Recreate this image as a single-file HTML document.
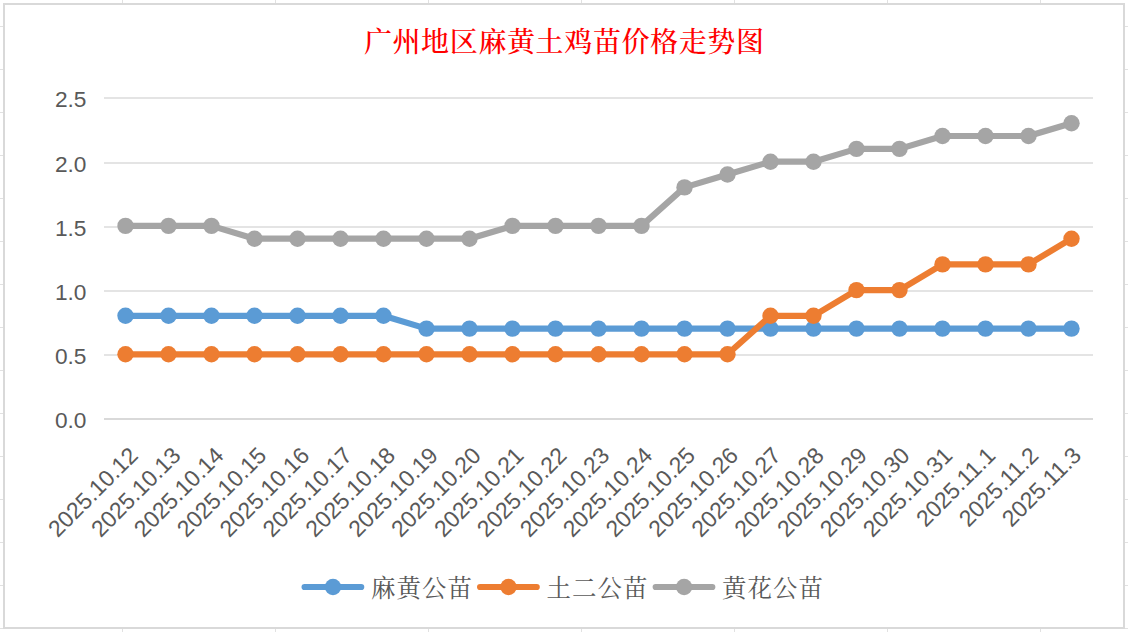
<!DOCTYPE html>
<html><head><meta charset="utf-8"><title>广州地区麻黄土鸡苗价格走势图</title>
<style>
html,body{margin:0;padding:0;background:#fff;width:1128px;height:632px;overflow:hidden}
svg{display:block}
.ax{font-family:"Liberation Sans","Noto Sans CJK SC",sans-serif;font-size:23px;fill:#595959}
.lg{font-family:"Liberation Serif","Noto Serif CJK SC",serif;font-size:24.5px;letter-spacing:1px;fill:#595959}
.tt{font-family:"Liberation Serif","Noto Serif CJK SC",serif;font-size:28px;font-weight:500;fill:#FF0000}
</style></head><body>
<svg width="1128" height="632" viewBox="0 0 1128 632">
<rect width="1128" height="632" fill="#fff"/>
<rect x="0" y="26" width="1128" height="1" fill="#E1E1E1"/><rect x="0" y="69" width="1128" height="1" fill="#E1E1E1"/><rect x="0" y="112" width="1128" height="1" fill="#E1E1E1"/><rect x="0" y="155" width="1128" height="1" fill="#E1E1E1"/><rect x="0" y="198" width="1128" height="1" fill="#E1E1E1"/><rect x="0" y="241" width="1128" height="1" fill="#E1E1E1"/><rect x="0" y="284" width="1128" height="1" fill="#E1E1E1"/><rect x="0" y="327" width="1128" height="1" fill="#E1E1E1"/><rect x="0" y="370" width="1128" height="1" fill="#E1E1E1"/><rect x="0" y="413" width="1128" height="1" fill="#E1E1E1"/><rect x="0" y="456" width="1128" height="1" fill="#E1E1E1"/><rect x="0" y="499" width="1128" height="1" fill="#E1E1E1"/><rect x="0" y="542" width="1128" height="1" fill="#E1E1E1"/><rect x="0" y="585" width="1128" height="1" fill="#E1E1E1"/><rect x="0" y="628" width="1128" height="1" fill="#E1E1E1"/><rect x="122" y="0" width="1" height="632" fill="#E1E1E1"/><rect x="275" y="0" width="1" height="632" fill="#E1E1E1"/><rect x="428" y="0" width="1" height="632" fill="#E1E1E1"/><rect x="581" y="0" width="1" height="632" fill="#E1E1E1"/><rect x="734" y="0" width="1" height="632" fill="#E1E1E1"/><rect x="887" y="0" width="1" height="632" fill="#E1E1E1"/><rect x="1040" y="0" width="1" height="632" fill="#E1E1E1"/><rect x="1193" y="0" width="1" height="632" fill="#E1E1E1"/>
<rect x="4" y="4" width="1120" height="624" fill="#fff" stroke="#D9D9D9" stroke-width="2"/>
<text x="363.9 392.5 421.1 449.8 478.4 507.0 535.6 564.2 592.9 621.5 650.1 678.7 707.3 736.0" y="52" class="tt">广州地区麻黄土鸡苗价格走势图</text>
<rect x="104" y="97" width="989" height="2" fill="#E4E4E4"/><rect x="104" y="162" width="989" height="2" fill="#E4E4E4"/><rect x="104" y="226" width="989" height="2" fill="#E4E4E4"/><rect x="104" y="290" width="989" height="2" fill="#E4E4E4"/><rect x="104" y="354" width="989" height="2" fill="#E4E4E4"/><rect x="104" y="418" width="989" height="2" fill="#D9D9D9"/>

<g class="ax"><text x="86.5" y="106.9" text-anchor="end" style="font-size:22.7px">2.5</text><text x="86.5" y="171.9" text-anchor="end" style="font-size:22.7px">2.0</text><text x="86.5" y="235.9" text-anchor="end" style="font-size:22.7px">1.5</text><text x="86.5" y="299.9" text-anchor="end" style="font-size:22.7px">1.0</text><text x="86.5" y="363.9" text-anchor="end" style="font-size:22.7px">0.5</text><text x="86.5" y="427.9" text-anchor="end" style="font-size:22.7px">0.0</text></g>
<g class="ax"><text x="139.2" y="456.9" text-anchor="end" transform="rotate(-45 139.2 456.9)">2025.10.12</text><text x="182.1" y="456.9" text-anchor="end" transform="rotate(-45 182.1 456.9)">2025.10.13</text><text x="225.0" y="456.9" text-anchor="end" transform="rotate(-45 225.0 456.9)">2025.10.14</text><text x="267.8" y="456.9" text-anchor="end" transform="rotate(-45 267.8 456.9)">2025.10.15</text><text x="310.7" y="456.9" text-anchor="end" transform="rotate(-45 310.7 456.9)">2025.10.16</text><text x="353.6" y="456.9" text-anchor="end" transform="rotate(-45 353.6 456.9)">2025.10.17</text><text x="396.5" y="456.9" text-anchor="end" transform="rotate(-45 396.5 456.9)">2025.10.18</text><text x="439.4" y="456.9" text-anchor="end" transform="rotate(-45 439.4 456.9)">2025.10.19</text><text x="482.2" y="456.9" text-anchor="end" transform="rotate(-45 482.2 456.9)">2025.10.20</text><text x="525.1" y="456.9" text-anchor="end" transform="rotate(-45 525.1 456.9)">2025.10.21</text><text x="568.0" y="456.9" text-anchor="end" transform="rotate(-45 568.0 456.9)">2025.10.22</text><text x="610.9" y="456.9" text-anchor="end" transform="rotate(-45 610.9 456.9)">2025.10.23</text><text x="653.8" y="456.9" text-anchor="end" transform="rotate(-45 653.8 456.9)">2025.10.24</text><text x="696.6" y="456.9" text-anchor="end" transform="rotate(-45 696.6 456.9)">2025.10.25</text><text x="739.5" y="456.9" text-anchor="end" transform="rotate(-45 739.5 456.9)">2025.10.26</text><text x="782.4" y="456.9" text-anchor="end" transform="rotate(-45 782.4 456.9)">2025.10.27</text><text x="825.3" y="456.9" text-anchor="end" transform="rotate(-45 825.3 456.9)">2025.10.28</text><text x="868.2" y="456.9" text-anchor="end" transform="rotate(-45 868.2 456.9)">2025.10.29</text><text x="911.0" y="456.9" text-anchor="end" transform="rotate(-45 911.0 456.9)">2025.10.30</text><text x="953.9" y="456.9" text-anchor="end" transform="rotate(-45 953.9 456.9)">2025.10.31</text><text x="996.8" y="456.9" text-anchor="end" transform="rotate(-45 996.8 456.9)">2025.11.1</text><text x="1039.7" y="456.9" text-anchor="end" transform="rotate(-45 1039.7 456.9)">2025.11.2</text><text x="1082.6" y="456.9" text-anchor="end" transform="rotate(-45 1082.6 456.9)">2025.11.3</text></g>
<polyline points="125.5,315.8 168.5,315.8 211.5,315.8 254.5,315.8 297.5,315.8 340.5,315.8 383.5,315.8 426.5,328.6 469.5,328.6 512.5,328.6 555.5,328.6 598.5,328.6 641.5,328.6 684.5,328.6 727.5,328.6 770.5,328.6 813.5,328.6 856.5,328.6 899.5,328.6 942.5,328.6 985.5,328.6 1028.5,328.6 1071.5,328.6" fill="none" stroke="#5B9BD5" stroke-width="6.2" stroke-linejoin="round" stroke-linecap="round"/>
<circle cx="125.5" cy="315.8" r="8.2" fill="#5B9BD5"/><circle cx="168.5" cy="315.8" r="8.2" fill="#5B9BD5"/><circle cx="211.5" cy="315.8" r="8.2" fill="#5B9BD5"/><circle cx="254.5" cy="315.8" r="8.2" fill="#5B9BD5"/><circle cx="297.5" cy="315.8" r="8.2" fill="#5B9BD5"/><circle cx="340.5" cy="315.8" r="8.2" fill="#5B9BD5"/><circle cx="383.5" cy="315.8" r="8.2" fill="#5B9BD5"/><circle cx="426.5" cy="328.6" r="8.2" fill="#5B9BD5"/><circle cx="469.5" cy="328.6" r="8.2" fill="#5B9BD5"/><circle cx="512.5" cy="328.6" r="8.2" fill="#5B9BD5"/><circle cx="555.5" cy="328.6" r="8.2" fill="#5B9BD5"/><circle cx="598.5" cy="328.6" r="8.2" fill="#5B9BD5"/><circle cx="641.5" cy="328.6" r="8.2" fill="#5B9BD5"/><circle cx="684.5" cy="328.6" r="8.2" fill="#5B9BD5"/><circle cx="727.5" cy="328.6" r="8.2" fill="#5B9BD5"/><circle cx="770.5" cy="328.6" r="8.2" fill="#5B9BD5"/><circle cx="813.5" cy="328.6" r="8.2" fill="#5B9BD5"/><circle cx="856.5" cy="328.6" r="8.2" fill="#5B9BD5"/><circle cx="899.5" cy="328.6" r="8.2" fill="#5B9BD5"/><circle cx="942.5" cy="328.6" r="8.2" fill="#5B9BD5"/><circle cx="985.5" cy="328.6" r="8.2" fill="#5B9BD5"/><circle cx="1028.5" cy="328.6" r="8.2" fill="#5B9BD5"/><circle cx="1071.5" cy="328.6" r="8.2" fill="#5B9BD5"/>
<polyline points="125.5,354.3 168.5,354.3 211.5,354.3 254.5,354.3 297.5,354.3 340.5,354.3 383.5,354.3 426.5,354.3 469.5,354.3 512.5,354.3 555.5,354.3 598.5,354.3 641.5,354.3 684.5,354.3 727.5,354.3 770.5,315.8 813.5,315.8 856.5,290.1 899.5,290.1 942.5,264.4 985.5,264.4 1028.5,264.4 1071.5,238.7" fill="none" stroke="#ED7D31" stroke-width="6.2" stroke-linejoin="round" stroke-linecap="round"/>
<circle cx="125.5" cy="354.3" r="8.2" fill="#ED7D31"/><circle cx="168.5" cy="354.3" r="8.2" fill="#ED7D31"/><circle cx="211.5" cy="354.3" r="8.2" fill="#ED7D31"/><circle cx="254.5" cy="354.3" r="8.2" fill="#ED7D31"/><circle cx="297.5" cy="354.3" r="8.2" fill="#ED7D31"/><circle cx="340.5" cy="354.3" r="8.2" fill="#ED7D31"/><circle cx="383.5" cy="354.3" r="8.2" fill="#ED7D31"/><circle cx="426.5" cy="354.3" r="8.2" fill="#ED7D31"/><circle cx="469.5" cy="354.3" r="8.2" fill="#ED7D31"/><circle cx="512.5" cy="354.3" r="8.2" fill="#ED7D31"/><circle cx="555.5" cy="354.3" r="8.2" fill="#ED7D31"/><circle cx="598.5" cy="354.3" r="8.2" fill="#ED7D31"/><circle cx="641.5" cy="354.3" r="8.2" fill="#ED7D31"/><circle cx="684.5" cy="354.3" r="8.2" fill="#ED7D31"/><circle cx="727.5" cy="354.3" r="8.2" fill="#ED7D31"/><circle cx="770.5" cy="315.8" r="8.2" fill="#ED7D31"/><circle cx="813.5" cy="315.8" r="8.2" fill="#ED7D31"/><circle cx="856.5" cy="290.1" r="8.2" fill="#ED7D31"/><circle cx="899.5" cy="290.1" r="8.2" fill="#ED7D31"/><circle cx="942.5" cy="264.4" r="8.2" fill="#ED7D31"/><circle cx="985.5" cy="264.4" r="8.2" fill="#ED7D31"/><circle cx="1028.5" cy="264.4" r="8.2" fill="#ED7D31"/><circle cx="1071.5" cy="238.7" r="8.2" fill="#ED7D31"/>
<polyline points="125.5,225.9 168.5,225.9 211.5,225.9 254.5,238.7 297.5,238.7 340.5,238.7 383.5,238.7 426.5,238.7 469.5,238.7 512.5,225.9 555.5,225.9 598.5,225.9 641.5,225.9 684.5,187.4 727.5,174.5 770.5,161.7 813.5,161.7 856.5,148.9 899.5,148.9 942.5,136.0 985.5,136.0 1028.5,136.0 1071.5,123.2" fill="none" stroke="#A5A5A5" stroke-width="6.2" stroke-linejoin="round" stroke-linecap="round"/>
<circle cx="125.5" cy="225.9" r="8.2" fill="#A5A5A5"/><circle cx="168.5" cy="225.9" r="8.2" fill="#A5A5A5"/><circle cx="211.5" cy="225.9" r="8.2" fill="#A5A5A5"/><circle cx="254.5" cy="238.7" r="8.2" fill="#A5A5A5"/><circle cx="297.5" cy="238.7" r="8.2" fill="#A5A5A5"/><circle cx="340.5" cy="238.7" r="8.2" fill="#A5A5A5"/><circle cx="383.5" cy="238.7" r="8.2" fill="#A5A5A5"/><circle cx="426.5" cy="238.7" r="8.2" fill="#A5A5A5"/><circle cx="469.5" cy="238.7" r="8.2" fill="#A5A5A5"/><circle cx="512.5" cy="225.9" r="8.2" fill="#A5A5A5"/><circle cx="555.5" cy="225.9" r="8.2" fill="#A5A5A5"/><circle cx="598.5" cy="225.9" r="8.2" fill="#A5A5A5"/><circle cx="641.5" cy="225.9" r="8.2" fill="#A5A5A5"/><circle cx="684.5" cy="187.4" r="8.2" fill="#A5A5A5"/><circle cx="727.5" cy="174.5" r="8.2" fill="#A5A5A5"/><circle cx="770.5" cy="161.7" r="8.2" fill="#A5A5A5"/><circle cx="813.5" cy="161.7" r="8.2" fill="#A5A5A5"/><circle cx="856.5" cy="148.9" r="8.2" fill="#A5A5A5"/><circle cx="899.5" cy="148.9" r="8.2" fill="#A5A5A5"/><circle cx="942.5" cy="136.0" r="8.2" fill="#A5A5A5"/><circle cx="985.5" cy="136.0" r="8.2" fill="#A5A5A5"/><circle cx="1028.5" cy="136.0" r="8.2" fill="#A5A5A5"/><circle cx="1071.5" cy="123.2" r="8.2" fill="#A5A5A5"/>

<g><line x1="304.6" y1="587" x2="361.2" y2="587" stroke="#5B9BD5" stroke-width="6.2" stroke-linecap="round"/><circle cx="333.0" cy="587" r="8.2" fill="#5B9BD5"/><text x="371.0" y="597" class="lg">麻黄公苗</text>
<line x1="480.1" y1="587" x2="536.7" y2="587" stroke="#ED7D31" stroke-width="6.2" stroke-linecap="round"/><circle cx="508.5" cy="587" r="8.2" fill="#ED7D31"/><text x="546.5" y="597" class="lg">土二公苗</text>
<line x1="655.7" y1="587" x2="712.3" y2="587" stroke="#A5A5A5" stroke-width="6.2" stroke-linecap="round"/><circle cx="684.1" cy="587" r="8.2" fill="#A5A5A5"/><text x="722.0" y="597" class="lg">黄花公苗</text>
</g>
</svg>
</body></html>
